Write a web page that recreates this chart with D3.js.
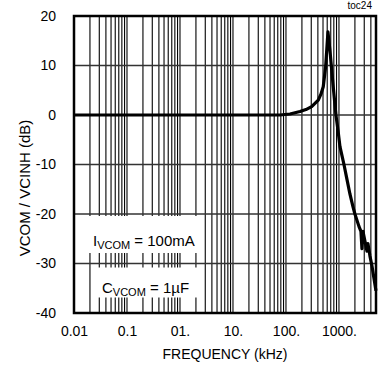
<!DOCTYPE html>
<html>
<head>
<meta charset="utf-8">
<script src="https://cdn.jsdelivr.net/npm/d3@7.9.0/dist/d3.min.js"></script>
<style>
  body { margin: 0; background: #fff; }
  svg { display: block; font-family: "Liberation Sans", Arial, sans-serif; }
</style>
</head>
<body>
<svg id="chart" width="378" height="366"></svg>
<script>
// Frequency (kHz) and VCOM/VCINH gain (dB)
const freqKHz = [0.01, 0.1, 1, 10, 30, 77, 119, 184, 238, 305, 407, 457, 505, 561, 594, 620,
  676, 780, 877, 957, 1045, 1140, 1243, 1416, 1614, 1837, 2000, 2384, 2600, 2716, 2838,
  3097, 3376, 3527, 3846, 4198, 4575, 4990];
const gainDb = [0, 0, 0, 0, 0, 0, 0.2, 0.7, 1.1, 1.7, 3.0, 4.2, 5.7, 9.8, 13.8, 16.8,
  13, 5.7, 0, -3, -6.4, -8.2, -10, -13, -16, -18.5, -20, -22.5, -23.5, -27, -23.5,
  -25.5, -27.5, -26, -28.5, -30.5, -33, -35.5];

const xTickValues = [0.01, 0.1, 1, 10, 100, 1000];
const xTickLabels = ['0.01', '0.1', '01.', '10.', '100.', '1000.'];
const yTickValues = [20, 10, 0, -10, -20, -30, -40];

const svg = d3.select('#chart');
const margin = { top: 16, right: 2, bottom: 53, left: 74 };
const width = 378 - margin.left - margin.right;
const height = 366 - margin.top - margin.bottom;

const x = d3.scaleLog().domain([0.01, 5000]).range([0, width]);
const y = d3.scaleLinear().domain([-40, 20]).range([height, 0]);

const g = svg.append('g')
  .attr('transform', `translate(${margin.left},${margin.top})`);

// log grid: 1..9 in every decade
const minor = [];
for (let dec = 0.01; dec < 5000; dec *= 10) {
  for (let k = 1; k <= 9; k++) {
    const v = +(dec * k).toPrecision(3);
    if (v > 0.01 && v < 5000) minor.push(v);
  }
}
g.selectAll('.vgrid').data(minor).join('line')
  .attr('class', 'vgrid')
  .attr('x1', d => x(d)).attr('x2', d => x(d))
  .attr('y1', 0).attr('y2', height)
  .attr('stroke', '#000').attr('stroke-width', 1.1);

g.selectAll('.hgrid').data(yTickValues.slice(1, -1)).join('line')
  .attr('class', 'hgrid')
  .attr('x1', 0).attr('x2', width)
  .attr('y1', d => y(d)).attr('y2', d => y(d))
  .attr('stroke', '#333').attr('stroke-width', 1.3);

// annotation boxes
const notes = g.append('g');
notes.append('rect').attr('x', 14).attr('y', y(-20) + 2).attr('width', 114).attr('height', 37).attr('fill', '#fff');
notes.append('rect').attr('x', 18).attr('y', y(-30) + 4).attr('width', 110).attr('height', 30).attr('fill', '#fff');

const t1 = notes.append('text').attr('x', 19).attr('y', 230).attr('font-size', 15).attr('fill', '#000');
t1.append('tspan').text('I');
t1.append('tspan').attr('font-size', 11).attr('dy', 3).text('VCOM');
t1.append('tspan').attr('dy', -3).text(' = 100mA');

const t2 = notes.append('text').attr('x', 28).attr('y', 277).attr('font-size', 15).attr('fill', '#000');
t2.append('tspan').text('C');
t2.append('tspan').attr('font-size', 11).attr('dy', 3).text('VCOM');
t2.append('tspan').attr('dy', -3).text(' = 1\u00b5F');

// curve
const line = d3.line()
  .x((d, i) => x(freqKHz[i]))
  .y(d => y(d));
g.append('path')
  .datum(gainDb)
  .attr('d', line)
  .attr('fill', 'none')
  .attr('stroke', '#000')
  .attr('stroke-width', 3.2)
  .attr('stroke-linejoin', 'round');

// frame
g.append('rect')
  .attr('width', width).attr('height', height)
  .attr('fill', 'none').attr('stroke', '#000').attr('stroke-width', 2.5);

// axes (labels only)
const xAxis = d3.axisBottom(x).tickValues(xTickValues)
  .tickFormat((d, i) => xTickLabels[i]).tickSize(0).tickPadding(13);
g.append('g').attr('transform', `translate(0,${height})`).call(xAxis)
  .call(s => s.select('.domain').remove())
  .selectAll('text').attr('font-size', 14).attr('font-family', null).attr('fill', '#000');

const yAxis = d3.axisLeft(y).tickValues(yTickValues)
  .tickFormat(d => String(d)).tickSize(0).tickPadding(18);
g.append('g').call(yAxis)
  .call(s => s.select('.domain').remove())
  .selectAll('text').attr('font-size', 14).attr('font-family', null).attr('fill', '#000');

svg.append('text')
  .attr('x', margin.left + width / 2).attr('y', 359)
  .attr('text-anchor', 'middle').attr('font-size', 14)
  .text('FREQUENCY (kHz)');

svg.append('text')
  .attr('transform', 'translate(30,188) rotate(-90)')
  .attr('text-anchor', 'middle').attr('font-size', 15)
  .text('VCOM / VCINH (dB)');

svg.append('text')
  .attr('x', 372).attr('y', 9)
  .attr('text-anchor', 'end').attr('font-size', 10)
  .text('toc24');
</script>
</body>
</html>
